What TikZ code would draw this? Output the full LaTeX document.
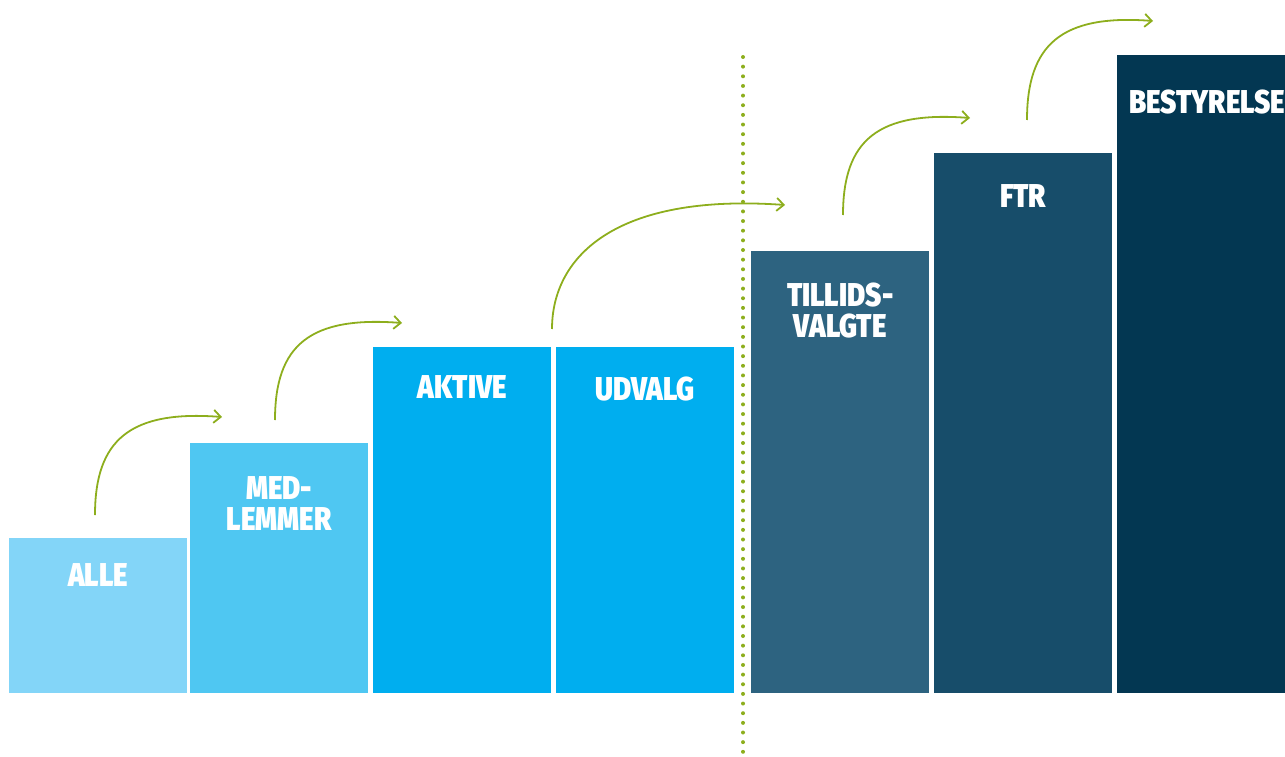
\documentclass[tikz,border=0pt]{standalone}
\usepackage{fontspec}
\IfFontExistsTF{Fira Sans Black}
  {\newfontfamily\barfont[FakeStretch=0.84, BoldFont={Fira Sans Black}]{Fira Sans}}
  {\newfontfamily\barfont[FakeStretch=0.9, FakeBold=1.5]{Fira Sans}}
\usetikzlibrary{arrows.meta}
\definecolor{allec}{HTML}{83D5F8}
\definecolor{medc}{HTML}{4FC7F2}
\definecolor{aktivc}{HTML}{00AEEF}
\definecolor{tillidc}{HTML}{2D6380}
\definecolor{ftrc}{HTML}{174D6A}
\definecolor{bestc}{HTML}{033752}
\definecolor{stepgreen}{HTML}{8DAE1D}
\tikzset{>={Straight Barb[length=7pt,width=13pt]}}
\tikzset{
  bar/.style={inner sep=0pt, minimum width=178pt, anchor=south west},
  lbl/.style={text=white, font=\barfont\bfseries\fontsize{33}{31}\selectfont, align=center, anchor=north, inner sep=0pt},
  stepline/.style={->, draw=stepgreen, line width=1.8pt}
}

\begin{document}
\begin{tikzpicture}[x=1pt, y=-1pt]
			\useasboundingbox (0, 0) rectangle (1285, 757);
			% bars
			\node [bar, fill=allec, minimum height=155pt] (alle) at (9, 693) {};
			\node [bar, fill=medc, minimum height=250pt] (med) at (190, 693) {};
			\node [bar, fill=aktivc, minimum height=346pt] (aktive) at (373, 693) {};
			\node [bar, fill=aktivc, minimum height=346pt] (udvalg) at (556, 693) {};
			\node [bar, fill=tillidc, minimum height=442pt] (tillid) at (751, 693) {};
			\node [bar, fill=ftrc, minimum height=540pt] (ftr) at (934, 693) {};
			\node [bar, fill=bestc, minimum height=638pt, minimum width=168pt] (best) at (1117, 693) {};
			% labels
			\node [lbl] at ([yshift=-26pt]alle.north) {ALLE};
			\node [lbl] at ([yshift=-34pt]med.north) {MED-\\LEMMER};
			\node [lbl] at ([yshift=-29pt]aktive.north) {AKTIVE};
			\node [lbl] at ([yshift=-30pt]udvalg.north) {UDVALG};
			\node [lbl] at ([yshift=-32pt]tillid.north) {TILLIDS-\\VALGTE};
			\node [lbl] at ([yshift=-32pt]ftr.north) {FTR};
			\node [lbl] at ([xshift=6pt, yshift=-35pt]best.north) {BESTYRELSE};
			% divider
			\coordinate (divtop) at (743, 57);
			\coordinate (divbot) at (743, 752);
			\draw [stepgreen, line width=4pt, line cap=round, dash pattern=on 0pt off 9.65pt] (divtop)--(divbot);
			% steps
			\coordinate (s1) at (95, 515);   \coordinate (e1) at (222, 417);
			\coordinate (s2) at (275, 420);  \coordinate (e2) at (402, 323);
			\coordinate (s3) at (552, 329);  \coordinate (e3) at (785, 205);
			\coordinate (s4) at (843, 215);  \coordinate (e4) at (970, 118);
			\coordinate (s5) at (1027, 120); \coordinate (e5) at (1153, 21);
			\draw [stepline] (s1) .. controls +(0, -75) and +(-92, -7) .. (e1);
			\draw [stepline] (s2) .. controls +(0, -75) and +(-92, -7) .. (e2);
			\draw [stepline] (s3) .. controls +(0, -72) and +(-170, -12) .. (e3);
			\draw [stepline] (s4) .. controls +(0, -75) and +(-92, -7) .. (e4);
			\draw [stepline] (s5) .. controls +(0, -75) and +(-92, -7) .. (e5);
		\end{tikzpicture}
\end{document}
